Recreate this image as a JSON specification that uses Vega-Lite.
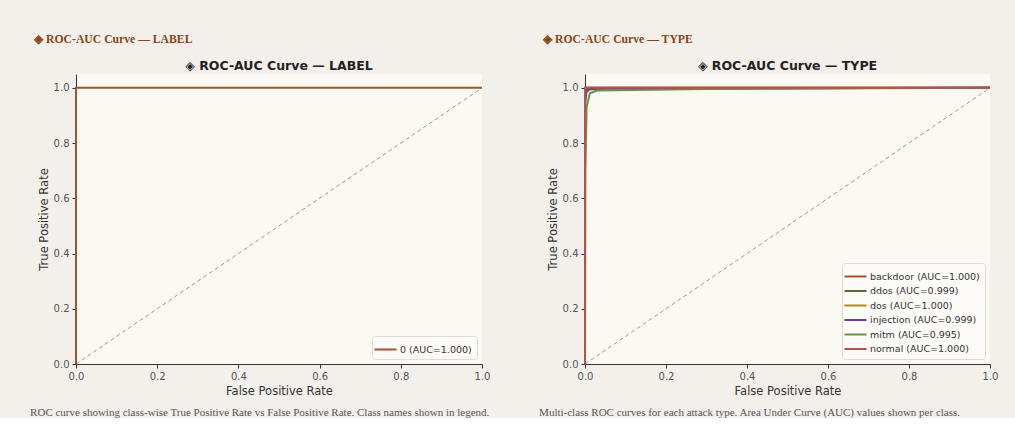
{
  "$schema": "https://vega.github.io/schema/vega-lite/v6.json",
  "background": "#f3f0eb",
  "padding": {"left": 30, "top": 33, "right": 24, "bottom": 0},
  "spacing": 49,
  "resolve": {"scale": {"color": "independent", "x": "independent", "y": "independent"}, "legend": {"color": "independent"}},
  "config": {
    "axis": {
      "grid": false,
      "domainColor": "#333333",
      "tickColor": "#333333",
      "tickSize": 4,
      "labelFlush": false,
      "labelPadding": 3,
      "labelColor": "#555555",
      "labelFont": "DejaVu Sans",
      "labelFontSize": 10,
      "titleFont": "DejaVu Sans",
      "titleFontSize": 11.5,
      "titleFontWeight": "normal",
      "titleColor": "#333333"
    },
    "legend": {
      "orient": "bottom-right",
      "symbolType": "M-1.5,0H1.5",
      "symbolStrokeWidth": 2,
      "symbolSize": 215,
      "labelFont": "DejaVu Sans",
      "labelFontSize": 9.5,
      "labelColor": "#333333",
      "labelOffset": 6,
      "fillColor": "#fdfbf8",
      "strokeColor": "#dddddd",
      "padding": 5,
      "cornerRadius": 3,
      "offset": 5,
      "rowPadding": 1.5
    },
    "view": {"stroke": null}
  },
  "hconcat": [
    {
      "title": {"text": "ROC curve showing class-wise True Positive Rate vs False Positive Rate. Class names shown in legend.", "orient": "bottom", "anchor": "start", "font": "Liberation Serif", "fontSize": 11, "fontWeight": "normal", "color": "#555555", "offset": 10, "dx": -4},
      "resolve": {"scale": {"color": "independent"}, "legend": {"color": "independent"}},
      "vconcat": [
        {
          "title": {"text": "◈ ROC-AUC Curve — LABEL", "anchor": "start", "font": "Liberation Serif", "fontSize": 11.7, "fontWeight": "bold", "color": "#8b4513", "offset": 14, "dx": -4},
          "resolve": {"scale": {"color": "independent"}, "legend": {"color": "independent"}},
          "vconcat": [
            {
              "width": 406,
              "height": 290,
              "title": {"text": "◈ ROC-AUC Curve — LABEL", "font": "DejaVu Sans", "fontSize": 12.5, "fontWeight": "bold", "color": "#222222", "offset": 2},
              "view": {"fill": "#fcf8f2", "stroke": null},
              "layer": [
                {
                  "data": {"values": [{"fpr": 0, "tpr": 0}, {"fpr": 1, "tpr": 1}]},
                  "mark": {"type": "line", "strokeDash": [4, 3], "color": "#9a9a9a", "strokeWidth": 1},
                  "encoding": {
                    "x": {"field": "fpr", "type": "quantitative", "scale": {"domain": [0, 1], "nice": false}, "axis": {"title": "False Positive Rate", "values": [0, 0.2, 0.4, 0.6, 0.8, 1.0], "format": ".1f"}},
                    "y": {"field": "tpr", "type": "quantitative", "scale": {"domain": [0, 1.05], "nice": false}, "axis": {"title": "True Positive Rate", "values": [0, 0.2, 0.4, 0.6, 0.8, 1.0], "format": ".1f"}}
                  }
                },
                {
                  "data": {"values": [
                    {"cls": "0 (AUC=1.000)", "i": 0, "fpr": 0, "tpr": 0},
                    {"cls": "0 (AUC=1.000)", "i": 1, "fpr": 0, "tpr": 1},
                    {"cls": "0 (AUC=1.000)", "i": 2, "fpr": 1, "tpr": 1}
                  ]},
                  "mark": {"type": "line", "strokeWidth": 2},
                  "encoding": {
                    "x": {"field": "fpr", "type": "quantitative"},
                    "y": {"field": "tpr", "type": "quantitative"},
                    "order": {"field": "i", "type": "quantitative"},
                    "color": {"field": "cls", "type": "nominal", "scale": {"domain": ["0 (AUC=1.000)"], "range": ["#a0522d"]}, "legend": {"title": null}}
                  }
                }
              ]
            }
          ]
        }
      ]
    },
    {
      "title": {"text": "Multi-class ROC curves for each attack type. Area Under Curve (AUC) values shown per class.", "orient": "bottom", "anchor": "start", "font": "Liberation Serif", "fontSize": 11, "fontWeight": "normal", "color": "#555555", "offset": 10, "dx": -4},
      "resolve": {"scale": {"color": "independent"}, "legend": {"color": "independent"}},
      "vconcat": [
        {
          "title": {"text": "◈ ROC-AUC Curve — TYPE", "anchor": "start", "font": "Liberation Serif", "fontSize": 11.7, "fontWeight": "bold", "color": "#8b4513", "offset": 14, "dx": -4},
          "resolve": {"scale": {"color": "independent"}, "legend": {"color": "independent"}},
          "vconcat": [
            {
              "width": 405,
              "height": 290,
              "title": {"text": "◈ ROC-AUC Curve — TYPE", "font": "DejaVu Sans", "fontSize": 12.5, "fontWeight": "bold", "color": "#222222", "offset": 2},
              "view": {"fill": "#fcf8f2", "stroke": null},
              "layer": [
                {
                  "data": {"values": [{"fpr": 0, "tpr": 0}, {"fpr": 1, "tpr": 1}]},
                  "mark": {"type": "line", "strokeDash": [4, 3], "color": "#9a9a9a", "strokeWidth": 1},
                  "encoding": {
                    "x": {"field": "fpr", "type": "quantitative", "scale": {"domain": [0, 1], "nice": false}, "axis": {"title": "False Positive Rate", "values": [0, 0.2, 0.4, 0.6, 0.8, 1.0], "format": ".1f"}},
                    "y": {"field": "tpr", "type": "quantitative", "scale": {"domain": [0, 1.05], "nice": false}, "axis": {"title": "True Positive Rate", "values": [0, 0.2, 0.4, 0.6, 0.8, 1.0], "format": ".1f"}}
                  }
                },
                {
                  "data": {"values": [
                    {"cls": "backdoor (AUC=1.000)", "i": 0, "fpr": 0, "tpr": 0},
                    {"cls": "backdoor (AUC=1.000)", "i": 1, "fpr": 0, "tpr": 1},
                    {"cls": "backdoor (AUC=1.000)", "i": 2, "fpr": 1, "tpr": 1},
                    {"cls": "ddos (AUC=0.999)", "i": 0, "fpr": 0, "tpr": 0},
                    {"cls": "ddos (AUC=0.999)", "i": 1, "fpr": 0, "tpr": 0.93},
                    {"cls": "ddos (AUC=0.999)", "i": 2, "fpr": 0.003, "tpr": 0.982},
                    {"cls": "ddos (AUC=0.999)", "i": 3, "fpr": 0.01, "tpr": 0.994},
                    {"cls": "ddos (AUC=0.999)", "i": 4, "fpr": 0.05, "tpr": 0.998},
                    {"cls": "ddos (AUC=0.999)", "i": 5, "fpr": 1, "tpr": 1},
                    {"cls": "dos (AUC=1.000)", "i": 0, "fpr": 0, "tpr": 0},
                    {"cls": "dos (AUC=1.000)", "i": 1, "fpr": 0, "tpr": 0.998},
                    {"cls": "dos (AUC=1.000)", "i": 2, "fpr": 0.001, "tpr": 1},
                    {"cls": "dos (AUC=1.000)", "i": 3, "fpr": 1, "tpr": 1},
                    {"cls": "injection (AUC=0.999)", "i": 0, "fpr": 0, "tpr": 0},
                    {"cls": "injection (AUC=0.999)", "i": 1, "fpr": 0, "tpr": 0.95},
                    {"cls": "injection (AUC=0.999)", "i": 2, "fpr": 0.002, "tpr": 0.99},
                    {"cls": "injection (AUC=0.999)", "i": 3, "fpr": 0.01, "tpr": 0.997},
                    {"cls": "injection (AUC=0.999)", "i": 4, "fpr": 1, "tpr": 1},
                    {"cls": "mitm (AUC=0.995)", "i": 0, "fpr": 0, "tpr": 0},
                    {"cls": "mitm (AUC=0.995)", "i": 1, "fpr": 0.001, "tpr": 0.7},
                    {"cls": "mitm (AUC=0.995)", "i": 2, "fpr": 0.004, "tpr": 0.93},
                    {"cls": "mitm (AUC=0.995)", "i": 3, "fpr": 0.012, "tpr": 0.98},
                    {"cls": "mitm (AUC=0.995)", "i": 4, "fpr": 0.03, "tpr": 0.99},
                    {"cls": "mitm (AUC=0.995)", "i": 5, "fpr": 0.3, "tpr": 0.996},
                    {"cls": "mitm (AUC=0.995)", "i": 6, "fpr": 1, "tpr": 1},
                    {"cls": "normal (AUC=1.000)", "i": 0, "fpr": 0, "tpr": 0},
                    {"cls": "normal (AUC=1.000)", "i": 1, "fpr": 0, "tpr": 0.998},
                    {"cls": "normal (AUC=1.000)", "i": 2, "fpr": 0.002, "tpr": 1},
                    {"cls": "normal (AUC=1.000)", "i": 3, "fpr": 1, "tpr": 1}
                  ]},
                  "mark": {"type": "line", "strokeWidth": 2},
                  "encoding": {
                    "x": {"field": "fpr", "type": "quantitative"},
                    "y": {"field": "tpr", "type": "quantitative"},
                    "order": {"field": "i", "type": "quantitative"},
                    "color": {"field": "cls", "type": "nominal", "scale": {"domain": ["backdoor (AUC=1.000)", "ddos (AUC=0.999)", "dos (AUC=1.000)", "injection (AUC=0.999)", "mitm (AUC=0.995)", "normal (AUC=1.000)"], "range": ["#a0522d", "#556b2f", "#b8860b", "#6a3d9a", "#6b8e4e", "#b5524f"]}, "legend": {"title": null}}
                  }
                }
              ]
            }
          ]
        }
      ]
    }
  ]
}
